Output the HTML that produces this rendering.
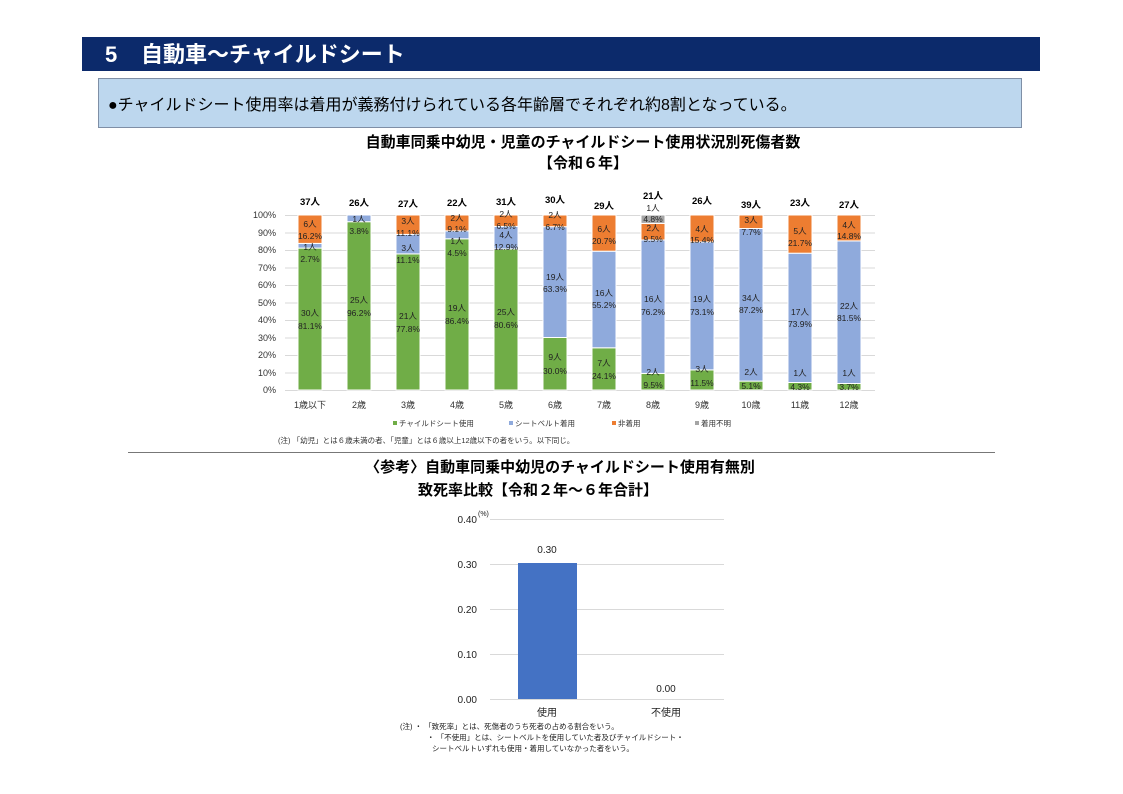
<!DOCTYPE html>
<html><head><meta charset="utf-8"><style>
html,body{margin:0;padding:0;background:#fff}
svg{display:block;font-family:"Liberation Sans","Noto Sans CJK JP",sans-serif}
.t{font-size:8.5px;fill:#222;text-anchor:middle}
.tot{font-size:9.5px;font-weight:bold;fill:#000;text-anchor:middle}
.ax{font-size:9px;fill:#333}
</style></head><body>
<svg width="1123" height="794" viewBox="0 0 1123 794" xmlns="http://www.w3.org/2000/svg">
<rect x="82" y="37" width="958" height="34" fill="#0c2a6b"/>
<text x="105" y="62" font-size="22" font-weight="bold" fill="#fff">5</text>
<text x="141" y="62" font-size="22" font-weight="bold" fill="#fff">自動車～チャイルドシート</text>
<rect x="98.5" y="78.5" width="923" height="49" fill="#bdd7ee" stroke="#7f8fa6"/>
<text x="108" y="110" font-size="16" fill="#000">●チャイルドシート使用率は着用が義務付けられている各年齢層でそれぞれ約8割となっている。</text>

<text x="583" y="147" font-size="15" font-weight="bold" text-anchor="middle">自動車同乗中幼児・児童のチャイルドシート使用状況別死傷者数</text>
<text x="583" y="168" font-size="15" font-weight="bold" text-anchor="middle">【令和６年】</text>

<g stroke="#d9d9d9" stroke-width="1">
<line x1="285" x2="875" y1="390.5" y2="390.5"/><line x1="285" x2="875" y1="373" y2="373"/><line x1="285" x2="875" y1="355.5" y2="355.5"/><line x1="285" x2="875" y1="338" y2="338"/><line x1="285" x2="875" y1="320.5" y2="320.5"/><line x1="285" x2="875" y1="303" y2="303"/><line x1="285" x2="875" y1="285.5" y2="285.5"/><line x1="285" x2="875" y1="268" y2="268"/><line x1="285" x2="875" y1="250.5" y2="250.5"/><line x1="285" x2="875" y1="233" y2="233"/><line x1="285" x2="875" y1="215.5" y2="215.5"/>
</g>
<g class="ax" text-anchor="end">
<text x="276" y="393">0%</text><text x="276" y="376">10%</text><text x="276" y="358">20%</text><text x="276" y="341">30%</text><text x="276" y="323">40%</text><text x="276" y="306">50%</text><text x="276" y="288">60%</text><text x="276" y="271">70%</text><text x="276" y="253">80%</text><text x="276" y="236">90%</text><text x="276" y="218">100%</text>
</g>

<g stroke="#fff" stroke-width="1">
<rect x="298" y="248.1" width="24" height="141.9" fill="#70ad47"/><rect x="298" y="243.4" width="24" height="4.7" fill="#8faadc"/><rect x="298" y="215" width="24" height="28.4" fill="#ed7d31"/>
<rect x="347" y="221.7" width="24" height="168.3" fill="#70ad47"/><rect x="347" y="215" width="24" height="6.7" fill="#8faadc"/>
<rect x="396" y="253.9" width="24" height="136.1" fill="#70ad47"/><rect x="396" y="234.4" width="24" height="19.5" fill="#8faadc"/><rect x="396" y="215" width="24" height="19.4" fill="#ed7d31"/>
<rect x="445" y="238.8" width="24" height="151.2" fill="#70ad47"/><rect x="445" y="230.9" width="24" height="7.9" fill="#8faadc"/><rect x="445" y="215" width="24" height="15.9" fill="#ed7d31"/>
<rect x="494" y="249" width="24" height="141" fill="#70ad47"/><rect x="494" y="226.4" width="24" height="22.6" fill="#8faadc"/><rect x="494" y="215" width="24" height="11.4" fill="#ed7d31"/>
<rect x="543" y="337.5" width="24" height="52.5" fill="#70ad47"/><rect x="543" y="226.7" width="24" height="110.8" fill="#8faadc"/><rect x="543" y="215" width="24" height="11.7" fill="#ed7d31"/>
<rect x="592" y="347.8" width="24" height="42.2" fill="#70ad47"/><rect x="592" y="251.2" width="24" height="96.6" fill="#8faadc"/><rect x="592" y="215" width="24" height="36.2" fill="#ed7d31"/>
<rect x="641" y="373.4" width="24" height="16.6" fill="#70ad47"/><rect x="641" y="240" width="24" height="133.4" fill="#8faadc"/><rect x="641" y="223.4" width="24" height="16.6" fill="#ed7d31"/><rect x="641" y="215" width="24" height="8.4" fill="#a5a5a5"/>
<rect x="690" y="369.9" width="24" height="20.1" fill="#70ad47"/><rect x="690" y="242" width="24" height="127.9" fill="#8faadc"/><rect x="690" y="215" width="24" height="27" fill="#ed7d31"/>
<rect x="739" y="381.1" width="24" height="8.9" fill="#70ad47"/><rect x="739" y="228.5" width="24" height="152.6" fill="#8faadc"/><rect x="739" y="215" width="24" height="13.5" fill="#ed7d31"/>
<rect x="788" y="382.5" width="24" height="7.5" fill="#70ad47"/><rect x="788" y="253.2" width="24" height="129.3" fill="#8faadc"/><rect x="788" y="215" width="24" height="38.2" fill="#ed7d31"/>
<rect x="837" y="383.5" width="24" height="6.5" fill="#70ad47"/><rect x="837" y="240.9" width="24" height="142.6" fill="#8faadc"/><rect x="837" y="215" width="24" height="25.9" fill="#ed7d31"/>
</g>

<g class="t">
<text x="310" y="227">6人</text><text x="310" y="239">16.2%</text><text x="310" y="250">1人</text><text x="310" y="262">2.7%</text><text x="310" y="316">30人</text><text x="310" y="329">81.1%</text>
<text x="359" y="222">1人</text><text x="359" y="234">3.8%</text><text x="359" y="303">25人</text><text x="359" y="316">96.2%</text>
<text x="408" y="224">3人</text><text x="408" y="236">11.1%</text><text x="408" y="251">3人</text><text x="408" y="263">11.1%</text><text x="408" y="319">21人</text><text x="408" y="332">77.8%</text>
<text x="457" y="221">2人</text><text x="457" y="232">9.1%</text><text x="457" y="244">1人</text><text x="457" y="256">4.5%</text><text x="457" y="311">19人</text><text x="457" y="324">86.4%</text>
<text x="506" y="217">2人</text><text x="506" y="229">6.5%</text><text x="506" y="238">4人</text><text x="506" y="250">12.9%</text><text x="506" y="315">25人</text><text x="506" y="328">80.6%</text>
<text x="555" y="218">2人</text><text x="555" y="230">6.7%</text><text x="555" y="280">19人</text><text x="555" y="292">63.3%</text><text x="555" y="360">9人</text><text x="555" y="374">30.0%</text>
<text x="604" y="232">6人</text><text x="604" y="244">20.7%</text><text x="604" y="296">16人</text><text x="604" y="308">55.2%</text><text x="604" y="366">7人</text><text x="604" y="379">24.1%</text>
<text x="653" y="211">1人</text><text x="653" y="222">4.8%</text><text x="653" y="231">2人</text><text x="653" y="242">9.5%</text><text x="653" y="302">16人</text><text x="653" y="315">76.2%</text><text x="653" y="375">2人</text><text x="653" y="388">9.5%</text>
<text x="702" y="232">4人</text><text x="702" y="243">15.4%</text><text x="702" y="302">19人</text><text x="702" y="315">73.1%</text><text x="702" y="372">3人</text><text x="702" y="386">11.5%</text>
<text x="751" y="223">3人</text><text x="751" y="235">7.7%</text><text x="751" y="301">34人</text><text x="751" y="313">87.2%</text><text x="751" y="375">2人</text><text x="751" y="389">5.1%</text>
<text x="800" y="234">5人</text><text x="800" y="246">21.7%</text><text x="800" y="315">17人</text><text x="800" y="327">73.9%</text><text x="800" y="376">1人</text><text x="800" y="390">4.3%</text>
<text x="849" y="228">4人</text><text x="849" y="239">14.8%</text><text x="849" y="309">22人</text><text x="849" y="321">81.5%</text><text x="849" y="376">1人</text><text x="849" y="390">3.7%</text>
</g>
<g class="tot">
<text x="310" y="205">37人</text><text x="359" y="206">26人</text><text x="408" y="207">27人</text><text x="457" y="206">22人</text><text x="506" y="205">31人</text><text x="555" y="203">30人</text><text x="604" y="209">29人</text><text x="653" y="199">21人</text><text x="702" y="204">26人</text><text x="751" y="208">39人</text><text x="800" y="206">23人</text><text x="849" y="208">27人</text>
</g>
<g class="ax" text-anchor="middle">
<text x="310" y="408">1歳以下</text><text x="359" y="408">2歳</text><text x="408" y="408">3歳</text><text x="457" y="408">4歳</text><text x="506" y="408">5歳</text><text x="555" y="408">6歳</text><text x="604" y="408">7歳</text><text x="653" y="408">8歳</text><text x="702" y="408">9歳</text><text x="751" y="408">10歳</text><text x="800" y="408">11歳</text><text x="849" y="408">12歳</text>
</g>
<g font-size="7.5" fill="#333">
<rect x="393" y="421" width="4" height="4" fill="#70ad47"/><text x="399" y="426">チャイルドシート使用</text>
<rect x="509" y="421" width="4" height="4" fill="#8faadc"/><text x="515" y="426">シートベルト着用</text>
<rect x="612" y="421" width="4" height="4" fill="#ed7d31"/><text x="618" y="426">非着用</text>
<rect x="695" y="421" width="4" height="4" fill="#a5a5a5"/><text x="701" y="426">着用不明</text>
<text x="278" y="443">(注) 「幼児」とは６歳未満の者、「児童」とは６歳以上12歳以下の者をいう。以下同じ。</text>
</g>
<line x1="128" x2="995" y1="452.5" y2="452.5" stroke="#777" stroke-width="1"/>

<text x="560" y="472" font-size="15" font-weight="bold" text-anchor="middle">〈参考〉自動車同乗中幼児のチャイルドシート使用有無別</text>
<text x="538" y="495" font-size="15" font-weight="bold" text-anchor="middle">致死率比較【令和２年～６年合計】</text>

<g stroke="#d9d9d9"><line x1="490" x2="724" y1="699.5" y2="699.5"/><line x1="490" x2="724" y1="654.5" y2="654.5"/><line x1="490" x2="724" y1="609.5" y2="609.5"/><line x1="490" x2="724" y1="564.5" y2="564.5"/><line x1="490" x2="724" y1="519.5" y2="519.5"/></g>
<g font-size="10" fill="#222">
<text x="477" y="703" text-anchor="end">0.00</text><text x="477" y="658" text-anchor="end">0.10</text><text x="477" y="613" text-anchor="end">0.20</text><text x="477" y="568" text-anchor="end">0.30</text><text x="477" y="523" text-anchor="end">0.40</text>
<text x="478" y="516" font-size="7">(%)</text>
<rect x="518" y="563" width="59" height="136" fill="#4472c4"/>
<text x="547" y="553" text-anchor="middle">0.30</text>
<text x="666" y="692" text-anchor="middle">0.00</text>
<text x="547" y="716" text-anchor="middle">使用</text>
<text x="666" y="716" text-anchor="middle">不使用</text>
</g>
<g font-size="7.5" fill="#222">
<text x="400" y="729">(注) ・  「致死率」とは、死傷者のうち死者の占める割合をいう。</text>
<text x="427" y="740">・  「不使用」とは、シートベルトを使用していた者及びチャイルドシート・</text>
<text x="432" y="751">シートベルトいずれも使用・着用していなかった者をいう。</text>
</g>
</svg>
</body></html>
